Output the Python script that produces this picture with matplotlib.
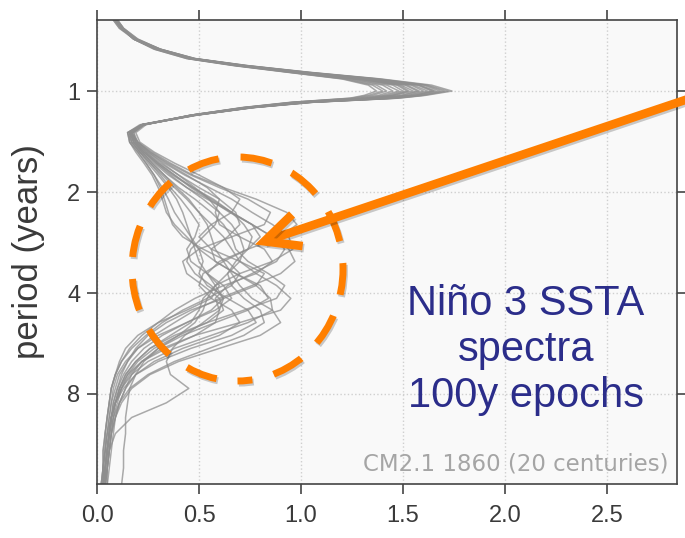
import matplotlib
matplotlib.use("Agg")
import matplotlib.pyplot as plt
from matplotlib.patches import Ellipse, FancyArrowPatch
from matplotlib.ticker import NullLocator
import matplotlib.patheffects as pe

# period grid (years), shared by all 20 century spectra
periods = [0.614, 0.65, 0.70, 0.75, 0.80, 0.84, 0.88, 0.92, 0.96, 1.0, 1.03, 1.05,
           1.08, 1.12, 1.18, 1.26, 1.33,
           1.42, 1.52, 1.64, 1.78, 1.94, 2.1, 2.3, 2.5, 2.72, 2.96, 3.22, 3.5, 3.8,
           4.15, 4.5, 4.9, 5.35, 5.85, 6.4, 7.0, 7.7, 8.5, 9.4, 10.5, 11.8, 13.3, 15.0]

# annual-cycle part of each spectrum (periods 0.614 .. 1.33)
annual = [
    [0.09, 0.12, 0.19, 0.30, 0.47, 0.73, 1.04, 1.38, 1.62, 1.72, 1.60, 1.47, 1.06, 0.77, 0.48, 0.23, 0.16],
    [0.09, 0.12, 0.19, 0.30, 0.46, 0.70, 0.99, 1.29, 1.49, 1.55, 1.46, 1.36, 1.01, 0.74, 0.47, 0.22, 0.17],
    [0.09, 0.12, 0.19, 0.30, 0.47, 0.72, 1.02, 1.35, 1.58, 1.66, 1.56, 1.44, 1.04, 0.76, 0.48, 0.22, 0.15],
    [0.09, 0.12, 0.18, 0.29, 0.45, 0.69, 0.97, 1.25, 1.42, 1.48, 1.40, 1.31, 0.98, 0.73, 0.46, 0.23, 0.18],
    [0.10, 0.13, 0.19, 0.31, 0.48, 0.74, 1.04, 1.37, 1.61, 1.70, 1.59, 1.46, 1.05, 0.76, 0.49, 0.23, 0.16],
    [0.09, 0.12, 0.18, 0.29, 0.45, 0.68, 0.95, 1.22, 1.37, 1.42, 1.35, 1.27, 0.96, 0.72, 0.46, 0.23, 0.18],
    [0.09, 0.12, 0.19, 0.30, 0.47, 0.71, 1.01, 1.33, 1.55, 1.62, 1.53, 1.41, 1.03, 0.75, 0.47, 0.22, 0.16],
    [0.08, 0.11, 0.19, 0.30, 0.46, 0.71, 1.00, 1.31, 1.52, 1.58, 1.50, 1.39, 1.02, 0.75, 0.47, 0.21, 0.15],
    [0.09, 0.12, 0.18, 0.28, 0.44, 0.67, 0.94, 1.20, 1.33, 1.37, 1.31, 1.24, 0.95, 0.71, 0.46, 0.24, 0.19],
    [0.09, 0.12, 0.19, 0.30, 0.47, 0.73, 1.03, 1.36, 1.60, 1.68, 1.58, 1.45, 1.05, 0.76, 0.48, 0.23, 0.16],
    [0.09, 0.12, 0.19, 0.29, 0.46, 0.70, 0.98, 1.28, 1.47, 1.52, 1.44, 1.34, 1.00, 0.74, 0.47, 0.22, 0.16],
    [0.10, 0.13, 0.20, 0.31, 0.48, 0.72, 1.02, 1.34, 1.57, 1.64, 1.55, 1.43, 1.04, 0.76, 0.48, 0.22, 0.16],
    [0.09, 0.12, 0.18, 0.29, 0.45, 0.69, 0.96, 1.24, 1.40, 1.45, 1.38, 1.29, 0.97, 0.72, 0.46, 0.22, 0.17],
    [0.09, 0.12, 0.19, 0.30, 0.47, 0.71, 1.01, 1.32, 1.54, 1.60, 1.52, 1.40, 1.03, 0.75, 0.48, 0.23, 0.17],
    [0.09, 0.12, 0.19, 0.31, 0.48, 0.74, 1.05, 1.39, 1.64, 1.74, 1.61, 1.48, 1.06, 0.77, 0.49, 0.22, 0.15],
    [0.08, 0.11, 0.18, 0.29, 0.46, 0.70, 0.98, 1.27, 1.45, 1.50, 1.42, 1.33, 0.99, 0.73, 0.47, 0.23, 0.17],
    [0.09, 0.12, 0.19, 0.30, 0.46, 0.70, 1.00, 1.30, 1.51, 1.57, 1.49, 1.38, 1.02, 0.75, 0.48, 0.23, 0.17],
    [0.09, 0.12, 0.18, 0.28, 0.44, 0.68, 0.95, 1.21, 1.35, 1.40, 1.33, 1.25, 0.96, 0.72, 0.46, 0.22, 0.17],
    [0.10, 0.13, 0.20, 0.31, 0.47, 0.72, 1.02, 1.35, 1.58, 1.65, 1.56, 1.44, 1.04, 0.76, 0.48, 0.23, 0.16],
    [0.09, 0.12, 0.19, 0.30, 0.46, 0.70, 0.99, 1.29, 1.48, 1.53, 1.45, 1.35, 1.00, 0.74, 0.47, 0.22, 0.16],
]

# ENSO band part of each spectrum (periods 1.42 .. 15)
enso = [
    [0.20, 0.27, 0.36, 0.47, 0.62, 0.78, 0.93, 0.98, 0.90, 0.74, 0.60, 0.54, 0.58, 0.62, 0.56, 0.44, 0.32, 0.23, 0.17, 0.13, 0.10, 0.08, 0.07, 0.06, 0.05, 0.04, 0.03],
    [0.18, 0.23, 0.30, 0.38, 0.47, 0.56, 0.66, 0.76, 0.86, 0.94, 0.97, 0.90, 0.76, 0.60, 0.48, 0.38, 0.28, 0.20, 0.15, 0.11, 0.09, 0.07, 0.06, 0.05, 0.04, 0.03, 0.03],
    [0.16, 0.19, 0.23, 0.27, 0.30, 0.32, 0.34, 0.38, 0.44, 0.50, 0.52, 0.50, 0.54, 0.64, 0.74, 0.78, 0.66, 0.46, 0.30, 0.19, 0.13, 0.09, 0.07, 0.05, 0.04, 0.03, 0.02],
    [0.19, 0.24, 0.31, 0.40, 0.50, 0.60, 0.68, 0.70, 0.64, 0.56, 0.58, 0.68, 0.80, 0.84, 0.74, 0.58, 0.42, 0.30, 0.22, 0.17, 0.14, 0.11, 0.09, 0.07, 0.06, 0.05, 0.04],
    [0.18, 0.23, 0.29, 0.37, 0.47, 0.57, 0.66, 0.72, 0.76, 0.74, 0.68, 0.64, 0.66, 0.72, 0.80, 0.82, 0.72, 0.55, 0.38, 0.25, 0.16, 0.11, 0.08, 0.06, 0.05, 0.04, 0.03],
    [0.20, 0.25, 0.32, 0.40, 0.48, 0.55, 0.60, 0.58, 0.52, 0.46, 0.44, 0.48, 0.56, 0.62, 0.60, 0.52, 0.43, 0.37, 0.34, 0.36, 0.45, 0.34, 0.17, 0.09, 0.06, 0.05, 0.04],
    [0.17, 0.21, 0.26, 0.32, 0.38, 0.44, 0.50, 0.56, 0.62, 0.66, 0.70, 0.78, 0.88, 0.95, 0.90, 0.70, 0.48, 0.32, 0.22, 0.16, 0.12, 0.09, 0.07, 0.06, 0.05, 0.04, 0.03],
    [0.16, 0.20, 0.24, 0.28, 0.31, 0.33, 0.35, 0.37, 0.42, 0.52, 0.64, 0.70, 0.66, 0.54, 0.42, 0.32, 0.24, 0.17, 0.12, 0.09, 0.07, 0.06, 0.05, 0.04, 0.03, 0.03, 0.02],
    [0.21, 0.28, 0.38, 0.50, 0.62, 0.70, 0.66, 0.56, 0.50, 0.56, 0.70, 0.82, 0.78, 0.62, 0.46, 0.34, 0.25, 0.19, 0.15, 0.12, 0.10, 0.08, 0.07, 0.06, 0.05, 0.04, 0.04],
    [0.19, 0.24, 0.30, 0.38, 0.46, 0.55, 0.65, 0.76, 0.86, 0.92, 0.88, 0.76, 0.64, 0.58, 0.60, 0.58, 0.48, 0.34, 0.22, 0.15, 0.11, 0.09, 0.07, 0.06, 0.05, 0.04, 0.04],
    [0.17, 0.21, 0.26, 0.31, 0.36, 0.41, 0.46, 0.50, 0.48, 0.44, 0.46, 0.54, 0.60, 0.56, 0.44, 0.30, 0.20, 0.14, 0.11, 0.09, 0.07, 0.06, 0.05, 0.04, 0.04, 0.03, 0.03],
    [0.18, 0.22, 0.28, 0.35, 0.44, 0.54, 0.66, 0.76, 0.80, 0.74, 0.62, 0.52, 0.50, 0.56, 0.66, 0.70, 0.60, 0.42, 0.28, 0.19, 0.14, 0.11, 0.09, 0.08, 0.07, 0.06, 0.05],
    [0.18, 0.22, 0.27, 0.33, 0.40, 0.48, 0.56, 0.62, 0.66, 0.68, 0.74, 0.84, 0.92, 0.88, 0.72, 0.54, 0.38, 0.26, 0.19, 0.14, 0.11, 0.09, 0.07, 0.06, 0.05, 0.04, 0.03],
    [0.20, 0.26, 0.35, 0.46, 0.60, 0.74, 0.85, 0.82, 0.66, 0.50, 0.42, 0.44, 0.52, 0.60, 0.62, 0.54, 0.40, 0.28, 0.20, 0.15, 0.12, 0.10, 0.08, 0.07, 0.06, 0.05, 0.05],
    [0.17, 0.21, 0.25, 0.30, 0.35, 0.39, 0.42, 0.44, 0.46, 0.50, 0.58, 0.68, 0.78, 0.85, 0.86, 0.74, 0.56, 0.38, 0.25, 0.17, 0.12, 0.09, 0.07, 0.06, 0.05, 0.04, 0.03],
    [0.19, 0.23, 0.29, 0.36, 0.44, 0.52, 0.60, 0.66, 0.70, 0.72, 0.70, 0.64, 0.58, 0.54, 0.52, 0.48, 0.40, 0.30, 0.23, 0.19, 0.16, 0.15, 0.14, 0.14, 0.13, 0.13, 0.12],
    [0.20, 0.26, 0.34, 0.44, 0.54, 0.60, 0.58, 0.60, 0.70, 0.82, 0.86, 0.78, 0.62, 0.48, 0.38, 0.30, 0.22, 0.16, 0.12, 0.09, 0.07, 0.06, 0.05, 0.04, 0.03, 0.03, 0.02],
    [0.18, 0.22, 0.27, 0.33, 0.39, 0.45, 0.50, 0.54, 0.56, 0.58, 0.62, 0.66, 0.70, 0.76, 0.86, 0.90, 0.80, 0.60, 0.40, 0.26, 0.17, 0.12, 0.09, 0.07, 0.06, 0.05, 0.04],
    [0.19, 0.25, 0.33, 0.43, 0.55, 0.66, 0.76, 0.86, 0.94, 0.96, 0.86, 0.70, 0.58, 0.52, 0.50, 0.46, 0.36, 0.26, 0.19, 0.14, 0.11, 0.09, 0.08, 0.07, 0.06, 0.05, 0.04],
    [0.16, 0.20, 0.24, 0.28, 0.32, 0.35, 0.38, 0.42, 0.46, 0.48, 0.50, 0.54, 0.62, 0.66, 0.58, 0.44, 0.30, 0.20, 0.14, 0.10, 0.08, 0.07, 0.06, 0.05, 0.04, 0.03, 0.03],
]

xticks = [0.0, 0.5, 1.0, 1.5, 2.0, 2.5]
yticks = [1, 2, 4, 8]
note_lines = ["Niño 3 SSTA", "spectra", "100y epochs"]
model_note = "CM2.1 1860 (20 centuries)"

fig = plt.figure(figsize=(6.85, 5.38), dpi=100)
ax = fig.add_axes([97 / 685, 54 / 538, 580 / 685, 464 / 538])
ax.set_facecolor("#f9f9f9")

for a, e in zip(annual, enso):
    ax.plot(a + e, periods, color="#8e8e8e", lw=1.1, alpha=0.75,
            solid_joinstyle="round")

ax.set_yscale("log", base=2)
ax.set_ylim(14.84, 0.614)
ax.set_xlim(0, 2.843)
ax.set_yticks(yticks)
ax.set_yticklabels([str(t) for t in yticks])
ax.yaxis.set_minor_locator(NullLocator())
ax.set_xticks(xticks)
ax.set_xticklabels(["%.1f" % t for t in xticks])

ax.grid(True, color="#cfcfcf", linestyle=":", lw=1.0)
for s in ax.spines.values():
    s.set_color("#444444")
    s.set_linewidth(1.2)
ax.tick_params(direction="out", length=7, width=1.2, color="#444444",
               top=True, right=True, labelsize=17, labelcolor="#3a3a3a")
ax.tick_params(axis="x", pad=8)
ax.tick_params(axis="y", pad=5)
for lab in ax.get_xticklabels() + ax.get_yticklabels():
    lab.set_fontfamily("Liberation Sans")

ax.set_ylabel("period (years)", fontsize=25, color="#3a3a3a", family="Liberation Sans")
ax.yaxis.set_label_coords(-0.09, 0.5)

ax.text(0.985, 0.03, model_note, transform=ax.transAxes, ha="right", va="baseline",
        fontsize=16.5, color="#a5a5a5", family="DejaVu Sans")

# annotation text in figure pixels
for txt, yb in zip(note_lines, [315, 361, 407]):
    fig.text(526 / 685, 1 - yb / 538, txt, ha="center", va="baseline",
             fontsize=30, color="#2b2d8a", family="Liberation Sans")

shadow = [pe.SimpleLineShadow(offset=(1, -1.5), shadow_color="k", alpha=0.2), pe.Normal()]

ring = Ellipse((237.5 / 685, 1 - 269 / 538), 211 / 685, 224 / 538,
               transform=fig.transFigure, fill=False, edgecolor="#ff7f00",
               lw=5, linestyle=(2.45, (4.6, 3.17)), path_effects=shadow)
fig.add_artist(ring)

arrow = FancyArrowPatch((700 / 685, 1 - 95 / 538), (255 / 685, 1 - 244.5 / 538),
                        transform=fig.transFigure, arrowstyle="->,head_length=0.5,head_width=0.24",
                        mutation_scale=50, color="#ff7f00", lw=6.2, shrinkA=0, shrinkB=0,
                        joinstyle="miter", capstyle="butt", path_effects=shadow)
fig.add_artist(arrow)

fig.savefig("out.png", dpi=100)
